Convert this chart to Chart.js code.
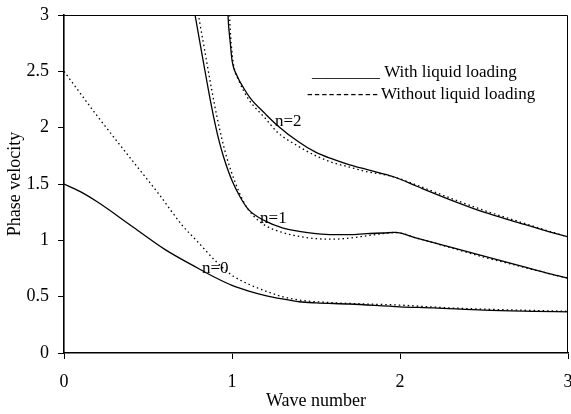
<!DOCTYPE html>
<html>
<head>
<meta charset="utf-8">
<script src="https://cdn.jsdelivr.net/npm/chart.js@4/dist/chart.umd.min.js"></script>
<style>
  html, body { margin: 0; padding: 0; background: #fff; }
  #wrap { width: 571px; height: 414px; }
</style>
</head>
<body>
<div id="wrap"><canvas id="myChart" width="571" height="414"></canvas></div>
<script>
// n=0 curves
const n0WithX = [0, 0.1, 0.2, 0.4, 0.6, 0.8, 0.9, 1.0, 1.1, 1.2, 1.3, 1.4, 1.5, 1.7, 2.0, 2.2, 2.5, 2.8, 3.0];
const n0WithY = [1.5, 1.43, 1.34, 1.13, 0.92, 0.75, 0.67, 0.6, 0.55, 0.51, 0.48, 0.455, 0.445, 0.435, 0.41, 0.4, 0.38, 0.37, 0.365];
const n0WithoutX = [0, 0.2, 0.4, 0.57, 0.7, 0.8, 0.9, 1.0, 1.1, 1.2, 1.3, 1.4, 1.5, 1.7, 2.0, 2.3, 2.6, 3.0];
const n0WithoutY = [2.5, 2.1, 1.72, 1.4, 1.14, 0.98, 0.82, 0.69, 0.61, 0.55, 0.5, 0.47, 0.455, 0.44, 0.425, 0.4, 0.385, 0.37];

// n=1 curves
const n1WithX = [0.76, 0.78, 0.83, 0.86, 0.89, 0.92, 0.95, 1.0, 1.05, 1.1, 1.2, 1.3, 1.4, 1.5, 1.6, 1.7, 1.8, 1.9, 1.97, 2.1, 2.3, 2.5, 2.7, 2.9, 3.0];
const n1WithY = [3.17, 3.0, 2.58, 2.33, 2.1, 1.9, 1.74, 1.53, 1.38, 1.27, 1.17, 1.11, 1.08, 1.06, 1.05, 1.05, 1.06, 1.065, 1.07, 1.02, 0.94, 0.86, 0.78, 0.7, 0.665];
const n1WithoutX = [0.78, 0.8, 0.85, 0.88, 0.91, 0.94, 0.97, 1.02, 1.07, 1.12, 1.2, 1.3, 1.4, 1.5, 1.6, 1.7, 1.8, 1.9, 1.97, 2.1, 2.3, 2.5, 2.7, 2.9, 3.0];
const n1WithoutY = [3.17, 3.0, 2.58, 2.33, 2.1, 1.9, 1.73, 1.51, 1.34, 1.23, 1.13, 1.07, 1.035, 1.015, 1.01, 1.02, 1.04, 1.06, 1.07, 1.02, 0.935, 0.85, 0.775, 0.7, 0.665];

// n=2 curves
const n2WithX = [0.972, 0.976, 0.99, 1.0, 1.03, 1.07, 1.11, 1.2, 1.27, 1.4, 1.5, 1.6, 1.7, 1.8, 1.9, 1.97, 2.1, 2.3, 2.5, 2.7, 2.9, 3.0];
const n2WithY = [3.2, 3.0, 2.75, 2.6, 2.46, 2.35, 2.26, 2.12, 2.02, 1.87, 1.78, 1.72, 1.67, 1.63, 1.59, 1.56, 1.48, 1.36, 1.25, 1.16, 1.07, 1.03];
const n2WithoutX = [0.98, 0.985, 0.995, 1.01, 1.04, 1.1, 1.2, 1.27, 1.4, 1.5, 1.6, 1.7, 1.8, 1.9, 1.97, 2.1, 2.3, 2.5, 2.7, 2.9, 3.0];
const n2WithoutY = [3.2, 3.0, 2.75, 2.55, 2.42, 2.25, 2.08, 1.96, 1.83, 1.75, 1.69, 1.65, 1.61, 1.585, 1.56, 1.49, 1.375, 1.265, 1.17, 1.075, 1.03];

// labels
const curveLabels = ["n=0", "n=1", "n=2"];
const curveLabelX = [0.821, 1.167, 1.256];
const curveLabelY = [0.71, 1.154, 2.015];
const legendLabels = ["With liquid loading", "Without liquid loading"];

const serif = "'Liberation Serif', 'DejaVu Serif', serif";

function pts(xs, ys) {
  return xs.map((x, i) => ({ x: x, y: ys[i] }));
}

function solid(data) {
  return { data: data, borderColor: "#000", borderWidth: 1.3, pointRadius: 0, fill: false, cubicInterpolationMode: "monotone" };
}
function dotted(data) {
  return { data: data, borderColor: "#000", borderWidth: 1.3, borderDash: [1.5, 3], pointRadius: 0, fill: false, cubicInterpolationMode: "monotone" };
}

// frame, curve labels and the text legend
const extrasPlugin = {
  id: "extras",
  afterDraw(chart) {
    const ctx = chart.ctx;
    const a = chart.chartArea;
    const xs = chart.scales.x;
    const ys = chart.scales.y;
    ctx.save();
    ctx.strokeStyle = "#000";
    ctx.lineWidth = 1;
    ctx.beginPath();
    ctx.moveTo(a.left, a.top + 0.5);
    ctx.lineTo(a.right - 0.5, a.top + 0.5);
    ctx.lineTo(a.right - 0.5, a.bottom);
    ctx.stroke();

    ctx.fillStyle = "#000";
    ctx.font = "17px " + serif;
    ctx.textBaseline = "alphabetic";
    ctx.textAlign = "left";
    curveLabels.forEach((t, i) => {
      ctx.fillText(t, xs.getPixelForValue(curveLabelX[i]), ys.getPixelForValue(curveLabelY[i]));
    });

    ctx.fillText("________ " + legendLabels[0], 312, 77);
    ctx.letterSpacing = "1.6px";
    ctx.fillText("----------", 307, 99);
    ctx.letterSpacing = "0px";
    ctx.fillText(legendLabels[1], 381, 99);
    ctx.restore();
  },
};

const ctx = document.getElementById("myChart").getContext("2d");

new Chart(ctx, {
  type: "line",
  data: {
    datasets: [
      solid(pts(n0WithX, n0WithY)),
      dotted(pts(n0WithoutX, n0WithoutY)),
      solid(pts(n1WithX, n1WithY)),
      dotted(pts(n1WithoutX, n1WithoutY)),
      solid(pts(n2WithX, n2WithY)),
      dotted(pts(n2WithoutX, n2WithoutY)),
    ],
  },
  options: {
    responsive: false,
    animation: false,
    layout: { padding: { top: 15, right: 3, left: 0, bottom: 0 } },
    plugins: {
      legend: { display: false },
      tooltip: { enabled: false },
    },
    scales: {
      x: {
        type: "linear",
        min: 0,
        max: 3,
        afterFit: (scale) => {
          scale.height = 61;
          scale.paddingLeft = 0;
          scale.paddingRight = 0;
        },
        ticks: { stepSize: 1, color: "#000", padding: 12, font: { family: serif, size: 18 } },
        grid: { drawOnChartArea: false, drawTicks: true, tickLength: 6, color: "#000" },
        border: { display: true, color: "#000", width: 1.6 },
        title: { display: true, text: "Wave number", color: "#000", padding: { top: 0, bottom: 2 }, font: { family: serif, size: 18 } },
      },
      y: {
        type: "linear",
        min: 0,
        max: 3,
        afterFit: (scale) => {
          scale.width = 64;
          scale.paddingTop = 0;
          scale.paddingBottom = 0;
        },
        ticks: { stepSize: 0.5, color: "#000", padding: 9, font: { family: serif, size: 18 }, callback: (v) => String(+v.toFixed(1)) },
        grid: { drawOnChartArea: false, drawTicks: true, tickLength: 6, color: "#000" },
        border: { display: true, color: "#000", width: 1.6 },
        title: { display: true, text: "Phase velocity", color: "#000", padding: { top: 4, bottom: 0 }, font: { family: serif, size: 18 } },
      },
    },
  },
  plugins: [extrasPlugin],
});
</script>
</body>
</html>
